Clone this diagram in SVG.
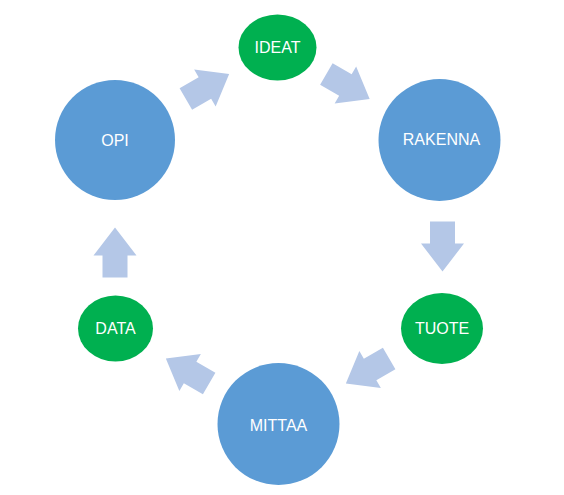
<svg xmlns="http://www.w3.org/2000/svg" width="564" height="495" viewBox="0 0 564 495">
  <style>
    .big { fill: #5B9BD5; }
    .small { fill: #00B050; }
    .lbl { font-family: "Liberation Sans", Arial, sans-serif; font-size: 16px; fill: #FFFFFF; text-anchor: middle; }
    .arr { fill: #B4C7E7; }
  </style>
  <defs>
    <path id="arrow" d="M-25,-12.5 H-3 V-21.5 L25,0 L-3,21.5 V12.5 H-25 Z"/>
  </defs>
  <rect width="564" height="495" fill="#FFFFFF"/>
  <g id="connectors">
    <use href="#arrow" class="arr" transform="translate(207.5,86.5) rotate(-30)"/>
    <use href="#arrow" class="arr" transform="translate(348,86.5) rotate(30)"/>
    <use href="#arrow" class="arr" transform="translate(442.5,246.5) rotate(90)"/>
    <use href="#arrow" class="arr" transform="translate(367.5,371) rotate(150)"/>
    <use href="#arrow" class="arr" transform="translate(187.5,371) rotate(210)"/>
    <use href="#arrow" class="arr" transform="translate(115,252.5) rotate(270)"/>
  </g>
  <g id="ideat">
    <ellipse class="small" cx="277.5" cy="47.5" rx="39" ry="33"/>
    <text class="lbl" x="277.5" y="53">IDEAT</text>
  </g>
  <g id="rakenna">
    <circle class="big" cx="439.5" cy="140" r="61"/>
    <text class="lbl" x="441.5" y="145">RAKENNA</text>
  </g>
  <g id="tuote">
    <ellipse class="small" cx="442" cy="328.5" rx="41" ry="35.5"/>
    <text class="lbl" x="442" y="334">TUOTE</text>
  </g>
  <g id="mittaa">
    <circle class="big" cx="278.5" cy="424" r="61"/>
    <text class="lbl" x="278.5" y="431">MITTAA</text>
  </g>
  <g id="data">
    <ellipse class="small" cx="115.5" cy="328.5" rx="37.5" ry="33"/>
    <text class="lbl" x="115.5" y="334">DATA</text>
  </g>
  <g id="opi">
    <circle class="big" cx="115" cy="140" r="60"/>
    <text class="lbl" x="115" y="146">OPI</text>
  </g>
</svg>
